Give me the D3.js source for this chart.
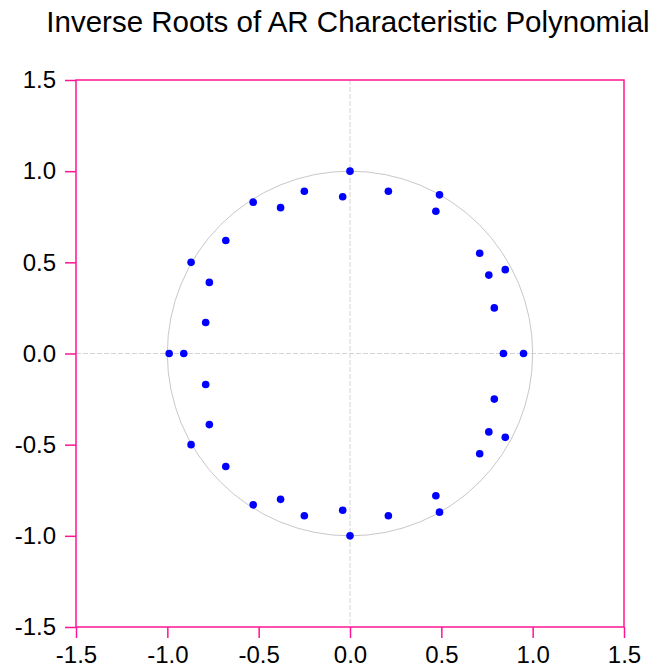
<!DOCTYPE html>
<html>
<head>
<meta charset="utf-8">
<script src="https://cdn.jsdelivr.net/npm/d3@7"></script>
<style>
  body { margin: 0; background: #fff; }
  svg text { font-family: "Liberation Sans", Arial, sans-serif; fill: #000; }
</style>
</head>
<body>
<svg id="chart"></svg>
<script>
// Inverse roots of the AR characteristic polynomial (real / imaginary parts)
const rootRe = [
   0.00, -0.04, -0.25, -0.38, -0.53, -0.68, -0.87, -0.77, -0.79,
   0.21,  0.49,  0.47,  0.71,  0.85,  0.76,  0.79,
   0.00, -0.04, -0.25, -0.38, -0.53, -0.68, -0.87, -0.77, -0.79,
   0.21,  0.49,  0.47,  0.71,  0.85,  0.76,  0.79,
  -0.99, -0.91,  0.84,  0.95
];
const rootIm = [
   1.00,  0.86,  0.89,  0.80,  0.83,  0.62,  0.50,  0.39,  0.17,
   0.89,  0.87,  0.78,  0.55,  0.46,  0.43,  0.25,
  -1.00, -0.86, -0.89, -0.80, -0.83, -0.62, -0.50, -0.39, -0.17,
  -0.89, -0.87, -0.78, -0.55, -0.46, -0.43, -0.25,
   0.00,  0.00,  0.00,  0.00
];
const tickValues = [-1.5, -1.0, -0.5, 0.0, 0.5, 1.0, 1.5];
const titleText = "Inverse Roots of AR Characteristic Polynomial";

const W = 652, H = 670;
const margin = { top: 80, left: 76, right: 28, bottom: 43 };
const innerW = W - margin.left - margin.right;
const innerH = H - margin.top - margin.bottom;
const frameColor = "#ff1493";

const svg = d3.select("#chart").attr("width", W).attr("height", H);

const x = d3.scaleLinear().domain([-1.5, 1.5]).range([0, innerW]);
const y = d3.scaleLinear().domain([-1.5, 1.5]).range([innerH, 0]);

svg.append("text")
    .attr("x", 348)
    .attr("y", 32)
    .attr("text-anchor", "middle")
    .style("font-size", "29.5px")
    .text(titleText);

const g = svg.append("g").attr("transform", `translate(${margin.left},${margin.top})`);

// zero lines
g.append("line")
    .attr("x1", x(0)).attr("x2", x(0)).attr("y1", 0).attr("y2", innerH)
    .style("stroke", "#d4d4d4").style("stroke-dasharray", "5,2");
g.append("line")
    .attr("x1", 0).attr("x2", innerW).attr("y1", y(0)).attr("y2", y(0))
    .style("stroke", "#d4d4d4").style("stroke-dasharray", "5,2");

// unit circle
g.append("ellipse")
    .attr("cx", x(0)).attr("cy", y(0))
    .attr("rx", x(1) - x(0)).attr("ry", y(0) - y(1))
    .style("fill", "none").style("stroke", "#c8c8c8").style("stroke-width", 1);

// axes (plain hyphen for the minus sign, like the original)
const fmt = v => d3.format(".1f")(v).replace("\u2212", "-");
const xAxis = g.append("g").attr("transform", `translate(0,${innerH})`)
    .call(d3.axisBottom(x).tickValues(tickValues).tickSize(11).tickPadding(8).tickFormat(fmt));
const yAxis = g.append("g")
    .call(d3.axisLeft(y).tickValues(tickValues).tickSize(11).tickPadding(9).tickFormat(fmt));
[xAxis, yAxis].forEach(a => {
    a.select(".domain").remove();
    a.selectAll(".tick line").style("stroke", frameColor).style("stroke-width", 1.5);
    a.selectAll(".tick text").style("font-size", "24px").style("font-family", "'Liberation Sans', Arial, sans-serif").attr("fill", "#000");
});

// frame
g.append("rect")
    .attr("width", innerW).attr("height", innerH)
    .style("fill", "none").style("stroke", frameColor).style("stroke-width", 1.5);

// roots
g.selectAll("circle.root")
    .data(rootRe.map((re, i) => ({ re, im: rootIm[i] })))
    .enter()
    .append("circle")
    .attr("class", "root")
    .attr("cx", d => x(d.re))
    .attr("cy", d => y(d.im))
    .attr("r", 3.8)
    .style("fill", "#0000ff");
</script>
</body>
</html>
